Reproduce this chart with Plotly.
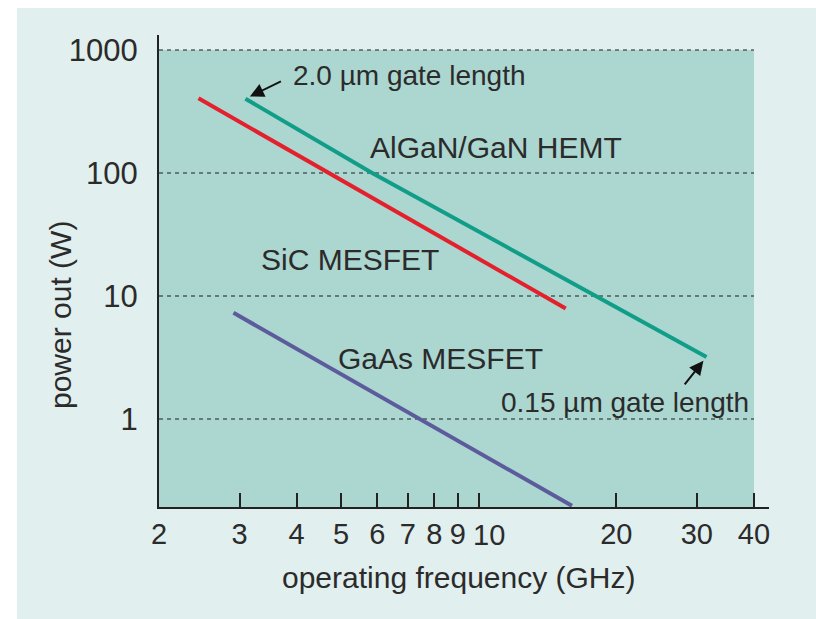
import numpy as np
import plotly.graph_objects as go

# ---- data ----
sic_freq = [2.44, 15.5]          # GHz
sic_power = [405, 7.9]           # W
gan_freq = [3.09, 5.85, 31.5]
gan_power = [402, 100, 3.2]
gaas_freq = [2.91, 16.0]
gaas_power = [7.3, 0.197]

x_ticks = [2, 3, 4, 5, 6, 7, 8, 9, 10, 20, 30, 40]
x_tick_labels = ["2", "3", "4", "5", "6", "7", "8", "9", "10", "20", "30", "40"]
y_ticks = [1, 10, 100, 1000]
y_tick_labels = ["1", "10", "100", "1000"]

# ---- styling ----
FONT = "Liberation Sans, Arial, Helvetica, sans-serif"
TXT = "#2b2b2b"
TEAL_BG = "#acd6d0"
OUTER_BG = "#e1efee"
XTICK_SIZE = 29

x_min, x_max = min(x_ticks), max(x_ticks)
y_min = 0.1926
x_range = [np.log10(x_min), np.log10(x_max) + 15 / 456.6]
y_range = [np.log10(y_min), np.log10(max(y_ticks)) + 15 / 123]

# the "10" label sits nudged to the right of its tick (as in the original),
# so it is written as an annotation instead of a regular tick label
shifted_tick = 10
tick_text_on_axis = ["" if v == shifted_tick else t
                     for v, t in zip(x_ticks, x_tick_labels)]

fig = go.Figure()
fig.add_trace(go.Scatter(x=sic_freq, y=sic_power, mode="lines",
                         line=dict(color="#e4202c", width=4), hoverinfo="skip"))
fig.add_trace(go.Scatter(x=gan_freq, y=gan_power, mode="lines",
                         line=dict(color="#119e88", width=4), hoverinfo="skip"))
fig.add_trace(go.Scatter(x=gaas_freq, y=gaas_power, mode="lines",
                         line=dict(color="#5c5b9c", width=4), hoverinfo="skip"))

shapes = [
    # outer light panel
    dict(type="rect", xref="paper", yref="paper", layer="below",
         x0=(17 - 159) / 610, x1=(816 - 159) / 610,
         y0=(507 - 625) / 472, y1=(507 - 8) / 472,
         fillcolor=OUTER_BG, line=dict(width=0)),
    # teal plotting panel
    dict(type="rect", xref="x", yref="y", layer="below",
         x0=x_min, x1=x_max, y0=y_min, y1=max(y_ticks),
         fillcolor=TEAL_BG, line=dict(width=0)),
]
for yv in y_ticks:
    shapes.append(dict(type="line", xref="x", yref="y", layer="below",
                       x0=x_min, x1=x_max, y0=yv, y1=yv,
                       line=dict(color="#1e1e1e", width=1.2, dash="4px,4px")))


def label(text, px, py, size=30, xanchor="center", angle=0):
    return dict(text=text, xref="paper", yref="paper",
                x=(px - 159) / 610, y=(507 - py) / 472,
                xanchor=xanchor, yanchor="middle", textangle=angle,
                showarrow=False, font=dict(family=FONT, size=size, color=TXT))


annotations = [
    label("operating frequency (GHz)", 459, 577),
    label("power out (W)", 60, 315, angle=-90),
    label("2.0 µm gate length", 291, 75, size=28, xanchor="left"),
    label("AlGaN/GaN HEMT", 496, 147),
    label("SiC MESFET", 350, 259),
    label("GaAs MESFET", 440, 358),
    label("0.15 µm gate length", 625, 402, size=28),
    # nudged "10" tick label
    dict(text=x_tick_labels[x_ticks.index(shifted_tick)],
         xref="x", yref="paper", x=np.log10(shifted_tick), xshift=10,
         y=(507 - 535) / 472, xanchor="center", yanchor="middle",
         showarrow=False, font=dict(family=FONT, size=XTICK_SIZE, color=TXT)),
    # arrows to the ends of the GaN line
    dict(text="", xref="x", yref="y",
         x=np.log10(gan_freq[0]), y=np.log10(gan_power[0]),
         ax=37, ay=-18, showarrow=True, arrowhead=2, arrowsize=1.4,
         arrowwidth=2, arrowcolor="#111111", standoff=5),
    dict(text="", xref="x", yref="y",
         x=np.log10(gan_freq[-1]), y=np.log10(gan_power[-1]),
         ax=-23, ay=29, showarrow=True, arrowhead=2, arrowsize=1.4,
         arrowwidth=2, arrowcolor="#111111", standoff=5),
]

fig.update_layout(
    width=816, height=619,
    margin=dict(l=159, r=816 - 769, t=35, b=619 - 507, pad=0),
    paper_bgcolor="white",
    plot_bgcolor="rgba(0,0,0,0)",
    showlegend=False,
    shapes=shapes,
    annotations=annotations,
    font=dict(family=FONT, color=TXT),
)
fig.update_xaxes(
    type="log", range=x_range, tickmode="array",
    tickvals=x_ticks, ticktext=tick_text_on_axis, tickangle=0,
    ticks="inside", ticklen=14, tickwidth=1.5, tickcolor="#222222",
    showline=True, linecolor="#222222", linewidth=2,
    showgrid=False, zeroline=False,
    tickfont=dict(family=FONT, size=XTICK_SIZE, color=TXT),
    ticklabelstandoff=0,
)
fig.update_yaxes(
    type="log", range=y_range, tickmode="array",
    tickvals=y_ticks, ticktext=y_tick_labels,
    ticks="", showline=True, linecolor="#222222", linewidth=2,
    showgrid=False, zeroline=False,
    tickfont=dict(family=FONT, size=31, color=TXT),
    ticklabelstandoff=13,
)

fig.write_html("out.html")
